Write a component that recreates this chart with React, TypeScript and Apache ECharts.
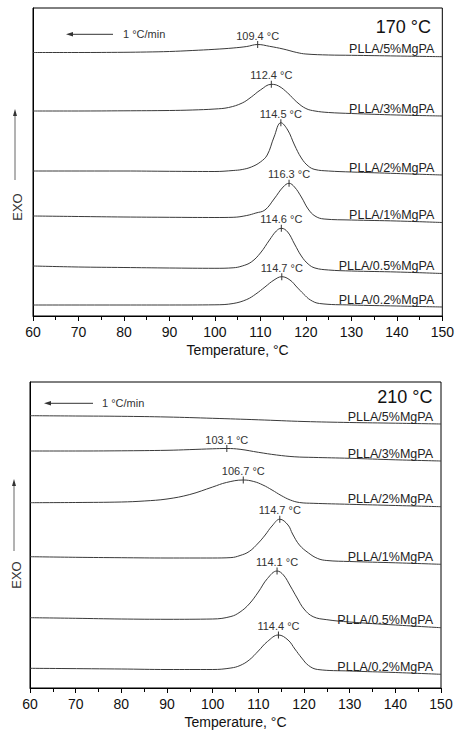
import React, { useEffect, useRef } from "react";
import * as echarts from "echarts";

const FONT = "'Liberation Sans', Arial, sans-serif";

// sample names (top to bottom)
const sampleNames = ["PLLA/5%MgPA", "PLLA/3%MgPA", "PLLA/2%MgPA", "PLLA/1%MgPA", "PLLA/0.5%MgPA", "PLLA/0.2%MgPA"];

// crystallization peak temperatures (°C)
const peaks170: (number | null)[] = [109.4, 112.4, 114.5, 116.3, 114.6, 114.7];
const peaks210: (number | null)[] = [null, 103.1, 106.7, 114.7, 114.1, 114.4];

// x axis
const xMin = 60;
const xMax = 150;
const xStep = 10;

// stacked DSC traces: [temperature °C, signal (offset scale, downward = endo)]
// 170 °C panel
const c170_5: [number, number][] = [[60,52.5],[70,52.5],[80,52.3],[85,52],[90,51.5],[95,50.5],[100,49.3],[104,48],[107,46.5],[109.4,44.5],[112,46.3],[115,49],[118,52.5],[120,54],[125,55],[130,55.3],[140,56],[150,56.7]];
const c170_3: [number, number][] = [[60,111],[70,111],[80,110.8],[90,110.5],[95,110],[100,109],[103,107.5],[106,103],[108,97],[110,90],[112.4,84.3],[114,86],[116,93],[118,102],[120,108.5],[122,111],[125,112.5],[130,113.5],[140,115],[150,116]];
const c170_2: [number, number][] = [[60,171],[80,171],[90,171.3],[100,171.5],[104,170.5],[106,169.5],[108,167],[110,162],[111.5,155],[113,137],[114.5,122.7],[116,130],[117.5,145],[119,158],[120.5,166],[122,169.5],[125,171],[130,172],[140,173.5],[150,175]];
const c170_1: [number, number][] = [[60,216],[70,216.5],[80,217],[90,217.3],[100,217.5],[104,217.3],[107,215.5],[109,213],[111,210],[113,199],[115,187],[116.3,183.3],[117.5,187],[119,197],[120.5,209],[122,216],[124,219],[130,220],[140,221],[150,222.5]];
const c170_05: [number, number][] = [[60,266],[70,267],[80,267.5],[90,268],[100,268.3],[104,267.8],[106,266],[108,262],[110,253],[112,240],[113.5,231],[114.6,228.3],[116,232],[117.5,244],[119,256],[120.5,264],[122,268],[125,270],[130,271],[140,272],[150,273.5]];
const c170_02: [number, number][] = [[60,305],[80,305],[90,305],[100,304.8],[104,303.5],[107,299.5],[109,294],[111,287],[113,280],[114.7,276.7],[116.5,280],[118,287],[119.5,294],[121,300],[123,303.5],[130,305],[140,306],[150,307]];

// 210 °C panel
const c210_5: [number, number][] = [[60,415.7],[70,416],[80,416.3],[90,417],[100,418.3],[110,419.8],[120,421.5],[130,422.5],[140,423.2],[150,424]];
const c210_3: [number, number][] = [[60,451],[70,451],[80,450.8],[90,450.3],[95,449.6],[100,448.8],[103.1,448.5],[106,449.3],[110,452.3],[114,455],[118,456.8],[122,457.4],[130,458.3],[140,459.8],[150,461]];
const c210_2: [number, number][] = [[60,502.7],[70,502.5],[80,502],[85,501],[90,499],[95,494.5],[100,487],[103,482.5],[106.7,480],[109,481.5],[111,485],[113,490],[115,495.5],[117,500],[119,502.5],[122,503.3],[130,504.3],[140,505.5],[150,506.7]];
const c210_1: [number, number][] = [[60,556.7],[70,557.3],[80,557.7],[90,558],[100,558],[104,557.6],[106,555.5],[108,551.5],[110,543],[111.5,535],[113,526],[114.7,519.2],[116.5,525],[117.5,534],[119,545],[121,553],[123,558.5],[125,560.5],[130,561.5],[140,562.8],[150,564.3]];
const c210_05: [number, number][] = [[60,617.7],[70,618.3],[80,619],[90,619.3],[100,619],[104,616.5],[106,612],[108,604],[110,592],[112,578.5],[114.1,571],[115.5,575],[117,586],[118.5,598],[120,609],[122,616.7],[125,619.7],[130,622],[140,625],[150,627.7]];
const c210_02: [number, number][] = [[60,668.3],[80,669],[90,669.5],[100,669.5],[104,668],[106,665.5],[108,660],[110,651],[112,641.5],[114.4,635],[116.5,640],[118,649],[119.5,658],[121,665.5],[123,669.5],[130,671],[140,672.5],[150,674.3]];

const curves170 = [c170_5, c170_3, c170_2, c170_1, c170_05, c170_02];
const curves210 = [c210_5, c210_3, c210_2, c210_1, c210_05, c210_02];

const panelTitles = ["170 °C", "210 °C"];
const rateText = "1 °C/min";
const xName = "Temperature, °C";
const exoText = "EXO";

function buildSeries(curves: [number, number][][], peaks: (number | null)[], idx: number) {
  return curves.map((data, i) => {
    const peak = peaks[i];
    let markPoint: any = undefined;
    if (peak != null) {
      let best = data[0];
      for (const p of data) if (p[1] < best[1]) best = p;
      markPoint = {
        symbol: "rect",
        symbolSize: [1, 7],
        silent: true,
        itemStyle: { color: "#333" },
        label: {
          show: true,
          position: "top",
          distance: 0,
          formatter: `${peak} °C`,
          fontSize: 11,
          color: "#333",
          fontFamily: FONT,
        },
        data: [{ coord: [best[0], best[1]] }],
      };
    }
    return {
      type: "line",
      name: sampleNames[i],
      data,
      xAxisIndex: idx,
      yAxisIndex: idx,
      showSymbol: false,
      symbol: "none",
      smooth: 0.4,
      silent: true,
      lineStyle: { color: "#3a3a3a", width: 1 },
      endLabel: {
        show: true,
        formatter: sampleNames[i],
        align: "right",
        verticalAlign: "bottom",
        distance: 0,
        offset: [-8, -1],
        fontSize: 12.5,
        color: "#222",
        fontFamily: FONT,
      },
      markPoint,
    };
  });
}

function xAxisDef(gridIndex: number) {
  return {
    type: "value",
    gridIndex,
    min: xMin,
    max: xMax,
    interval: xStep,
    name: xName,
    nameLocation: "middle",
    nameGap: 27,
    nameTextStyle: { fontSize: 14, color: "#111", fontFamily: FONT },
    axisLine: { show: true, lineStyle: { color: "#000", width: 1 } },
    axisTick: { show: true, inside: false, length: 5, lineStyle: { color: "#000" } },
    minorTick: { show: true, splitNumber: 2, length: 4, lineStyle: { color: "#000" } },
    axisLabel: { fontSize: 14, color: "#111", margin: 9, fontFamily: FONT },
    splitLine: { show: false },
  };
}

function yAxisDef(gridIndex: number, min: number, max: number) {
  return {
    type: "value",
    gridIndex,
    inverse: true,
    min,
    max,
    axisLine: { show: true, lineStyle: { color: "#000", width: 1 } },
    axisTick: { show: false },
    axisLabel: { show: false },
    splitLine: { show: false },
  };
}

function rateArrow(x1: number, x2: number, y: number, textX: number) {
  return [
    { type: "line", shape: { x1: x1 + 5, y1: y, x2, y2: y }, style: { stroke: "#333", lineWidth: 1 } },
    { type: "polygon", shape: { points: [[x1, y], [x1 + 7, y - 2.3], [x1 + 7, y + 2.3]] }, style: { fill: "#333" } },
    { type: "text", x: textX, y, style: { text: rateText, fontSize: 11, fill: "#333", fontFamily: FONT, verticalAlign: "middle", align: "left" } },
  ];
}

function exoArrow(x: number, yTop: number, yBottom: number, textY: number) {
  return [
    { type: "line", shape: { x1: x, y1: yTop + 5, x2: x, y2: yBottom }, style: { stroke: "#666", lineWidth: 1 } },
    { type: "polygon", shape: { points: [[x, yTop], [x - 2, yTop + 7], [x + 2, yTop + 7]] }, style: { fill: "#333" } },
    { type: "text", x: x + 2, y: textY, rotation: Math.PI / 2, style: { text: exoText, fontSize: 13, fill: "#333", fontFamily: FONT, align: "center", verticalAlign: "middle" } },
  ];
}

export default function App() {
  const ref = useRef<HTMLDivElement>(null);
  useEffect(() => {
    document.body.style.margin = "0";
    if (!ref.current) return;
    const chart = echarts.init(ref.current, null, { renderer: "svg" });
    chart.setOption({
      animation: false,
      backgroundColor: "#fff",
      grid: [
        { left: 33, top: 8, width: 410, height: 308, show: true, borderColor: "#000", borderWidth: 1, backgroundColor: "transparent" },
        { left: 30, top: 382, width: 411, height: 306, show: true, borderColor: "#000", borderWidth: 1, backgroundColor: "transparent" },
      ],
      xAxis: [xAxisDef(0), xAxisDef(1)],
      yAxis: [yAxisDef(0, 8, 316), yAxisDef(1, 382, 688)],
      series: [...buildSeries(curves170, peaks170, 0), ...buildSeries(curves210, peaks210, 1)],
      graphic: [
        { type: "text", x: 431, y: 27, style: { text: panelTitles[0], fontSize: 18, fill: "#111", fontFamily: FONT, align: "right", verticalAlign: "middle" } },
        { type: "text", x: 432.5, y: 397, style: { text: panelTitles[1], fontSize: 18, fill: "#111", fontFamily: FONT, align: "right", verticalAlign: "middle" } },
        ...rateArrow(66, 113, 34.3, 123),
        ...rateArrow(44, 93, 403.3, 102),
        ...exoArrow(15, 109, 180, 207),
        ...exoArrow(14, 479, 551, 575),
      ],
    });
    return () => chart.dispose();
  }, []);
  return (
    <div
      ref={ref}
      style={{ position: "absolute", left: 0, top: 0, width: 457, height: 731, background: "#fff" }}
    />
  );
}
